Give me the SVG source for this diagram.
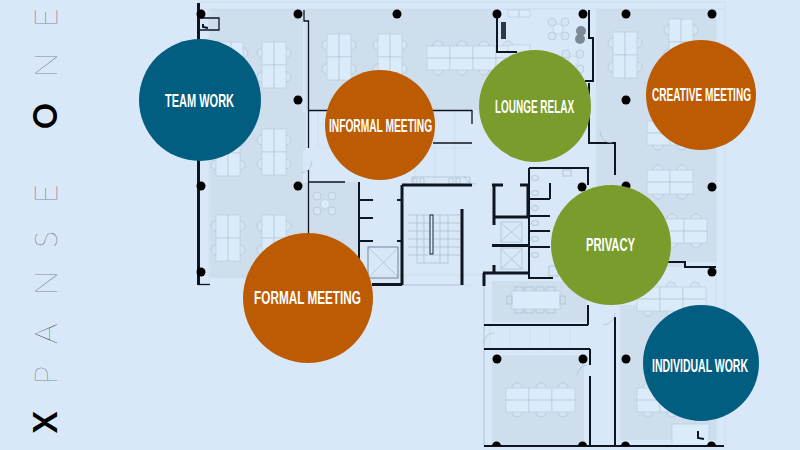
<svg xmlns="http://www.w3.org/2000/svg" width="800" height="450" viewBox="0 0 800 450">
<style>
.zone{fill:#cfdeec}
.thin{fill:none;stroke:#a9bccf;stroke-width:.7}
.grid{fill:none;stroke:#c3d4e6;stroke-width:.5}
.w1{fill:none;stroke:#0d1520;stroke-width:1.3}
.w2{fill:none;stroke:#0d1520;stroke-width:2}
.w3{fill:none;stroke:#0d1520;stroke-width:3}
.col{fill:#000}
.desk{fill:#dcebf9;stroke:#b4c7da;stroke-width:.6}
.chair{fill:#d5e4f3;stroke:#aabdd0;stroke-width:.6}
.lbl{font-family:"Liberation Sans",Arial,sans-serif;font-weight:700;font-size:18px;fill:#fff;text-anchor:middle}
.brand{font-family:Lato,"Liberation Sans",sans-serif;font-size:32px;fill:#0d1520;font-weight:100}
.brand .b{fill:#000;font-weight:700}
</style>
<defs>
<g id="podV"><circle class="chair" cx="0" cy="11" r="5"/><circle class="chair" cx="24" cy="11" r="5"/><circle class="chair" cx="0" cy="35" r="5"/><circle class="chair" cx="24" cy="35" r="5"/><rect class="desk" width="24" height="23"/><rect class="desk" y="23" width="24" height="23"/><path class="thin" d="M12 0V46"/></g>
<g id="podH"><circle class="chair" cx="11" cy="0" r="5"/><circle class="chair" cx="35" cy="0" r="5"/><circle class="chair" cx="11" cy="24" r="5"/><circle class="chair" cx="35" cy="24" r="5"/><rect class="desk" width="23" height="24"/><rect class="desk" x="23" width="23" height="24"/><path class="thin" d="M0 12H46"/></g>
<g id="podS"><circle class="chair" cx="11" cy="0" r="5"/><circle class="chair" cx="11" cy="24" r="5"/><rect class="desk" width="23" height="24"/><path class="thin" d="M0 12H23"/></g>
<g id="seat"><circle class="chair" r="4"/></g>
</defs>
<rect width="800" height="450" fill="#d9e8f8"/>
<g id="xpanse-one"><text class="brand" transform="translate(57 433) rotate(-90)" x="0 49 89 138 185 230" y="0"><tspan class="b">X</tspan>PANSE</text><text class="brand" transform="translate(57 433) rotate(-90)" x="304 356 406" y="0"><tspan class="b">O</tspan>NE</text></g>
<g id="floorplan">
<path class="zone" d="M210 9H303V112H306V150H303V182H358V278H210Z"/>
<path class="zone" d="M306 9H497V110H306Z"/>
<path class="zone" d="M309 183H358V270H309Z"/>
<path class="zone" d="M596 9H716V262H685V267H640V200H596Z"/>
<path class="zone" d="M620 305H716V440H620Z"/>
<path class="zone" d="M492 281H587V322H492Z"/>
<path class="zone" d="M492 355H584V445H492Z"/>
<path class="grid" d="M198 2H725V446M484 446V285M198 9H725M209 9V285M716 9V446M484 275H198M305 9V110M318 110V148H472M415 110V185M435 110V185M455 110V185M490 325V348M510 325V348M530 325V348M550 325V348M570 325V348M312 285H470"/>
<path class="grid" d="M530 170V216M540 60V150M550 60V150M560 60V150M570 60V150"/>
<path class="thin" d="M484 285V349M484 349V446M402 285H462"/>
<use href="#podV" x="219" y="42"/><use href="#podV" x="262" y="42"/><use href="#podV" x="327" y="34"/><use href="#podV" x="378" y="34"/>
<use href="#podH" x="427" y="46"/><use href="#podH" x="473" y="46"/>
<use href="#podV" x="262" y="129"/><use href="#podV" x="216" y="130"/><use href="#podV" x="216" y="215"/><use href="#podV" x="262" y="215"/>
<use href="#podV" x="613" y="32"/><use href="#podV" x="669" y="19"/>
<use href="#podH" x="647" y="121"/><use href="#podH" x="647" y="170"/><use href="#podH" x="661" y="219"/>
<use href="#podS" x="637" y="287"/><use href="#podH" x="660" y="287"/><use href="#podH" x="637" y="388"/>
<use href="#podH" x="506" y="388"/><use href="#podS" x="552" y="388"/>
<rect class="desk" x="672" y="424" width="37" height="22"/>
<path class="w2" d="M698 431V438L704 439"/>
<rect class="desk" x="512" y="291" width="48" height="18"/>
<path class="thin" d="M515 291V287H523V291M525 291V287H533V291M536 291V287H544V291M547 291V287H555V291M515 309V313H523V309M525 309V313H533V309M536 309V313H544V309M547 309V313H555V309"/>
<rect class="thin" x="507" y="296" width="5" height="8"/><rect class="thin" x="560" y="296" width="5" height="8"/>
<rect class="desk" x="508" y="10" width="22" height="7"/><path class="thin" d="M519 10V17"/><rect class="desk" x="508" y="45" width="22" height="7"/>
<g id="lounge-seats"><circle class="desk" cx="558" cy="29" r="5"/><use href="#seat" x="552" y="22"/><use href="#seat" x="565" y="22"/><use href="#seat" x="552" y="36"/><use href="#seat" x="565" y="36"/><circle class="desk" cx="573" cy="61" r="5"/><use href="#seat" x="566" y="54"/><use href="#seat" x="580" y="54"/><use href="#seat" x="580" y="69"/><circle class="desk" cx="325" cy="204" r="4.500"/><use href="#seat" x="317" y="196"/><use href="#seat" x="332" y="196"/><use href="#seat" x="317" y="211"/><use href="#seat" x="332" y="211"/></g>
<circle cx="581" cy="31" r="5" fill="#7a8b96"/><circle cx="580" cy="39" r="5" fill="#7a8b96"/>
<rect x="501" y="22" width="5" height="17" fill="#2c3a46"/>
<path class="thin" d="M408 215H460M408 223H460M408 231H460M408 239H460M408 247H460M408 255H460M417 215V263H448V215M424 215V263M440 215V263"/>
<rect x="430" y="215" width="3" height="39" fill="#dcebf9" stroke="#1c2733" stroke-width="1"/>
<path class="thin" d="M412 177H470V185H412Z"/>
<path class="thin" d="M413 178h4v6h-4zM420 178h4v6h-4zM449 178h4v6h-4zM456 178h4v6h-4z"/>
<path class="thin" d="M501 223L522 241M522 223L501 241M501 249L522 269M522 249L501 269M369 248L398 277M398 248L369 277"/>
<rect class="thin" x="501" y="222" width="21" height="20"/><rect class="thin" x="501" y="248" width="21" height="21"/><rect fill="none" stroke="#5a6d80" stroke-width=".8" x="368" y="247" width="30" height="31"/>
<g id="toilets" fill="none" stroke="#a9bccf" stroke-width=".8"><ellipse cx="535" cy="178" rx="3.500" ry="2.500"/><ellipse cx="535" cy="193" rx="3.500" ry="2.500"/><ellipse cx="535" cy="208" rx="3.500" ry="2.500"/><ellipse cx="535" cy="223" rx="3.500" ry="2.500"/><ellipse cx="535" cy="239" rx="3.500" ry="2.500"/><ellipse cx="535" cy="255" rx="3.500" ry="2.500"/><rect x="563" y="170" width="8" height="6"/><rect x="549" y="266" width="9" height="10"/></g>
<g id="walls">
<path class="w3" d="M198.500 3V285"/><path class="w1" d="M198 284.500H210"/><path class="w1" d="M198 18H219V30H199"/><path class="w2" d="M203 24V27L208 28"/>
<path class="w1" d="M304 10V21H308.500V148M308.500 170V236M308 182H345M309 110.500H472M433 143H472M472 110V124"/>
<path class="w2" d="M359 182V262M497 14V52H517M589 10V38H593V81H585M589 83V143H615V152M615 143V175M360 200H373M360 218H373M360 241H373M397 200H402M397 241H402"/>
<path class="w3" d="M402 185H472M402 185V285M372 284.500H402M462 209V285"/>
<path class="w3" d="M492 185H503M494 185V225M494 217H528M520 185H528V217M492 245.500H528M494 265V273M483 273H528M484 273V286"/>
<path class="w2" d="M529 168H588V185M529 168V278H553M529 199H550M529 216H550M529 231H550M529 247H550M550 183V199"/>
<path class="w2" d="M484 325H588M588 305V325M484 349H590M590 349V365M590 376V446M484 446H724M615 317V446M665 262H685V267H716"/>
<path class="thin" d="M312 161A12 12 0 0 1 301 173M476 184A12 12 0 0 1 464 176M612 143A12 12 0 0 1 600 131M587 365A12 12 0 0 0 577 375M615 313A12 12 0 0 1 603 325M484 343A10 10 0 0 1 494 333"/>
</g>
<g id="columns" class="col"><circle cx="201" cy="14" r="4.500"/><circle cx="298" cy="14" r="4.500"/><circle cx="397" cy="14" r="4.500"/><circle cx="497" cy="14" r="4.500"/><circle cx="583" cy="14" r="4.500"/><circle cx="626" cy="14" r="4.500"/><circle cx="712" cy="14" r="4.500"/><circle cx="298" cy="100" r="4.500"/><circle cx="626" cy="100" r="4.500"/><circle cx="201" cy="186" r="4.500"/><circle cx="298" cy="186" r="4.500"/><circle cx="201" cy="272" r="4.500"/><circle cx="626" cy="186" r="4.500"/><circle cx="712" cy="187" r="4.500"/><circle cx="712" cy="272" r="4.500"/><circle cx="582" cy="187" r="4.500"/><circle cx="497" cy="359" r="4.500"/><circle cx="583" cy="359" r="4.500"/><circle cx="626" cy="359" r="4.500"/><path d="M492 446a4.500 4.500 0 0 1 9 0ZM578 446a4.500 4.500 0 0 1 9 0ZM621 446a4.500 4.500 0 0 1 9 0ZM707 446a4.500 4.500 0 0 1 9 0Z"/></g>
</g>
<g id="connectors"></g>
<g id="team-work"><circle cx="200" cy="100" r="61" fill="#025e80"/><text class="lbl" transform="translate(199.500 107) scale(.6 1)" textLength="115" lengthAdjust="spacingAndGlyphs">TEAM WORK</text></g>
<g id="informal-meeting"><circle cx="380" cy="125" r="55" fill="#bd5b02"/><text class="lbl" transform="translate(380.500 132) scale(.6 1)" textLength="172" lengthAdjust="spacingAndGlyphs">INFORMAL MEETING</text></g>
<g id="lounge-relax"><circle cx="535" cy="106" r="56" fill="#7a9c2c"/><text class="lbl" transform="translate(534.500 113) scale(.6 1)" textLength="132" lengthAdjust="spacingAndGlyphs">LOUNGE RELAX</text></g>
<g id="creative-meeting"><circle cx="701" cy="95" r="55" fill="#bd5b02"/><text class="lbl" transform="translate(701.500 101) scale(.6 1)" textLength="165" lengthAdjust="spacingAndGlyphs">CREATIVE MEETING</text></g>
<g id="privacy"><circle cx="611" cy="245" r="60" fill="#7a9c2c"/><text class="lbl" transform="translate(610.500 251) scale(.6 1)" textLength="82" lengthAdjust="spacingAndGlyphs">PRIVACY</text></g>
<g id="formal-meeting"><circle cx="308" cy="298" r="65" fill="#bd5b02"/><text class="lbl" transform="translate(307.500 304) scale(.6 1)" textLength="178" lengthAdjust="spacingAndGlyphs">FORMAL MEETING</text></g>
<g id="individual-work"><circle cx="701" cy="363" r="58" fill="#025e80"/><text class="lbl" transform="translate(700 372) scale(.6 1)" textLength="160" lengthAdjust="spacingAndGlyphs">INDIVIDUAL WORK</text></g>
</svg>
